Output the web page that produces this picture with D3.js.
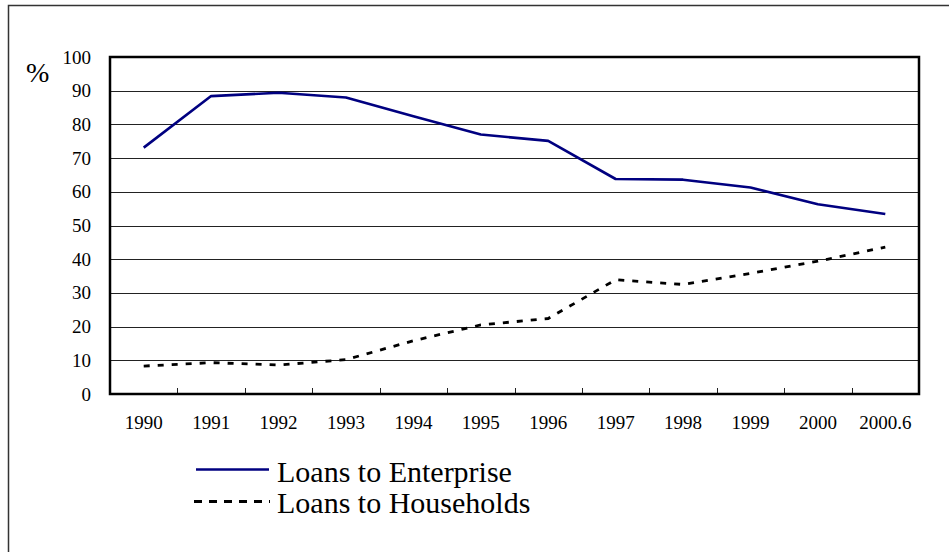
<!DOCTYPE html>
<html>
<head>
<meta charset="utf-8">
<script src="https://cdn.jsdelivr.net/npm/d3@7"></script>
<style>
  html, body { margin: 0; padding: 0; background: #fff; }
  svg { display: block; }
  svg text { font-family: "Liberation Serif", "Times New Roman", "DejaVu Serif", serif; }
</style>
</head>
<body>
<svg id="chart" width="949" height="552"></svg>
<script>
const categories = ["1990","1991","1992","1993","1994","1995","1996","1997","1998","1999","2000","2000.6"];
const enterprise = [73.1, 88.4, 89.4, 88.0, 82.4, 77.0, 75.1, 63.8, 63.6, 61.3, 56.3, 53.4];
const households = [8.3, 9.3, 8.6, 10.2, 15.8, 20.5, 22.4, 33.9, 32.5, 35.8, 39.4, 43.6];
const yTicks = [0,10,20,30,40,50,60,70,80,90,100];
const seriesNames = ["Loans to Enterprise", "Loans to Households"];

(function () {
const svg = d3.select("#chart");

// outer frame (only left and top visible)
svg.append("rect").attr("x", 8.5).attr("y", 5.5).attr("width", 1000).attr("height", 1000)
  .attr("fill", "none").attr("stroke", "#333").attr("stroke-width", 1.5);

const pLeft = 110, pRight = 919, pTop = 57, pBottom = 394;
const x = d3.scaleBand().domain(categories).range([pLeft, pRight]).padding(0);
const y = d3.scaleLinear().domain([0, 100]).range([pBottom, pTop]);

// gridlines
svg.append("g").selectAll("line").data(yTicks.filter(t => t > 0 && t < 100)).join("line")
  .attr("x1", pLeft).attr("x2", pRight)
  .attr("y1", d => Math.round(y(d)) + 0.5).attr("y2", d => Math.round(y(d)) + 0.5)
  .attr("stroke", "#222").attr("stroke-width", 1);

// x ticks (inside, between categories)
svg.append("g").selectAll("line").data(categories.slice(1)).join("line")
  .attr("x1", d => Math.round(x(d)) + 0.5).attr("x2", d => Math.round(x(d)) + 0.5)
  .attr("y1", pBottom).attr("y2", pBottom - 6)
  .attr("stroke", "#222").attr("stroke-width", 1);

// plot border
svg.append("rect").attr("x", pLeft).attr("y", pTop).attr("width", pRight - pLeft).attr("height", pBottom - pTop)
  .attr("fill", "none").attr("stroke", "#000").attr("stroke-width", 2.5);

// y labels
svg.append("g").selectAll("text").data(yTicks).join("text")
  .attr("x", 91).attr("y", d => y(d) + 6.5)
  .attr("text-anchor", "end").attr("font-size", 19).attr("fill", "#000")
  .text(d => d);

// % label
svg.append("text").attr("x", 26).attr("y", 82).attr("font-size", 28)
  .attr("fill", "#000").text("%");

// x labels
svg.append("g").selectAll("text").data(categories).join("text")
  .attr("x", d => x(d) + x.bandwidth() / 2).attr("y", 429)
  .attr("text-anchor", "middle").attr("font-size", 19).attr("fill", "#000")
  .text(d => d);

const line = d3.line()
  .x((d, i) => x(categories[i]) + x.bandwidth() / 2)
  .y(d => y(d));

svg.append("path").datum(enterprise).attr("d", line)
  .attr("fill", "none").attr("stroke", "#000080").attr("stroke-width", 2.6).attr("stroke-linejoin", "round");

svg.append("path").datum(households).attr("d", line)
  .attr("fill", "none").attr("stroke", "#000").attr("stroke-width", 2.8)
  .attr("stroke-dasharray", "6,8");

// legend
const legend = svg.append("g");
legend.append("line").attr("x1", 196).attr("x2", 269).attr("y1", 469.5).attr("y2", 469.5)
  .attr("stroke", "#000080").attr("stroke-width", 2.6);
legend.append("line").attr("x1", 194).attr("x2", 270).attr("y1", 501.5).attr("y2", 501.5)
  .attr("stroke", "#000").attr("stroke-width", 2.8).attr("stroke-dasharray", "8,7");
legend.selectAll("text").data(seriesNames).join("text")
  .attr("x", 277).attr("y", (d, i) => 481.5 + i * 31)
  .attr("font-size", 30).attr("fill", "#000")
  .text(d => d);
})();
</script>
</body>
</html>
